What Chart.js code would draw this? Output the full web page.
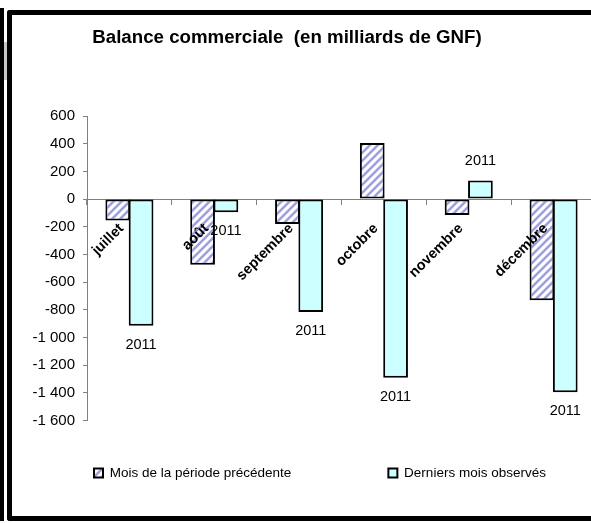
<!DOCTYPE html>
<html><head><meta charset="utf-8">
<script src="https://cdn.jsdelivr.net/npm/chart.js@4/dist/chart.umd.min.js"></script>
<style>
html,body{margin:0;padding:0;background:#fff;width:591px;height:523px;overflow:hidden;}
#strip{position:absolute;left:0;top:8px;width:4px;height:513px;background:#000;}
#grey{position:absolute;left:4px;top:42px;width:3px;height:38px;background:#c8c8c8;}
#frame{position:absolute;left:7px;top:10px;width:700px;height:501px;border:5px solid #000;border-right:none;border-radius:3px 0 0 3px;}
#wrap{position:absolute;left:12px;top:15px;width:600px;height:501px;}
</style></head><body>
<div id="strip"></div><div id="grey"></div><div id="frame"></div>
<div id="wrap"><canvas id="c" width="600" height="501"></canvas></div>
<script>
const titleText = 'Balance commerciale  (en milliards de GNF)';
const categories = ['juillet', 'août', 'septembre', 'octobre', 'novembre', 'décembre'];
const seriesNames = ['Mois de la période précédente', 'Derniers mois observés'];
const prevValues = [-155, -475, -180, 405, -115, -730];
const lastValues = [-915, -95, -815, -1290, 135, -1395];
const yearLabels = ['2011', '2011', '2011', '2011', '2011', '2011'];
const yTicks = [600, 400, 200, 0, -200, -400, -600, -800, -1000, -1200, -1400, -1600];

const FONT = '"Liberation Sans", Arial, sans-serif';

function makeHatch() {
  const c = document.createElement('canvas');
  c.width = 8; c.height = 8;
  const g = c.getContext('2d');
  g.fillStyle = '#ffffff'; g.fillRect(0, 0, 8, 8);
  g.strokeStyle = '#9f9fe6'; g.lineWidth = 2.6; g.lineCap = 'square';
  g.beginPath();
  g.moveTo(-2, 10); g.lineTo(10, -2);
  g.moveTo(-6, 6); g.lineTo(6, -6);
  g.moveTo(2, 14); g.lineTo(14, 2);
  g.stroke();
  return document.getElementById('c').getContext('2d').createPattern(c, 'repeat');
}

function fmt(v) {
  const s = String(Math.abs(v)).replace(/\B(?=(\d{3})+(?!\d))/g, ' ');
  return v < 0 ? '-' + s : s;
}

const barLabels = {
  id: 'barLabels',
  afterDatasetsDraw(chart) {
    const ctx = chart.ctx;
    const meta = chart.getDatasetMeta(1);
    ctx.save();
    ctx.font = '14.5px ' + FONT;
    ctx.fillStyle = '#000';
    ctx.textAlign = 'center';
    ctx.textBaseline = 'middle';
    meta.data.forEach((bar, i) => {
      const v = lastValues[i];
      ctx.fillText(yearLabels[i], bar.x, v < 0 ? bar.y + 19 : bar.y - 19);
    });
    ctx.restore();
  }
};

const place = {
  id: 'place',
  afterLayout(chart) {
    const t = chart.titleBlock;
    if (t) { t.left = 0; t.right = 550; }
    const lg = chart.legend;
    if (lg) {
      const p = lg.options.labels.padding;
      lg.left = 82 - p;
      lg.right = 3000;
      lg.top = 458 - 6.75 - p;
      lg.bottom = 501;
    }
  }
};

new Chart(document.getElementById('c'), {
  type: 'bar',
  data: {
    labels: categories,
    datasets: [
      { label: seriesNames[0], data: prevValues, backgroundColor: makeHatch(), borderColor: '#000', borderWidth: 2, borderSkipped: false },
      { label: seriesNames[1], data: lastValues, backgroundColor: '#ccffff', borderColor: '#000', borderWidth: 2, borderSkipped: false }
    ]
  },
  options: {
    responsive: false,
    animation: false,
    devicePixelRatio: 1,
    categoryPercentage: 0.55,
    barPercentage: 1.06,
    layout: { padding: { top: 0, left: 0, right: 16, bottom: 65.4 } },
    plugins: {
      tooltip: { enabled: false },
      title: {
        display: true, text: titleText, color: '#000',
        font: { family: FONT, size: 18.7, weight: 'bold', lineHeight: 1.2 },
        padding: { top: 11.8, bottom: 66.8 }
      },
      legend: {
        position: 'bottom', align: 'start', maxHeight: 30,
        labels: { boxWidth: 9, boxHeight: 9, padding: 97, color: '#000', font: { family: FONT, size: 13.5 } }
      }
    },
    scales: {
      x: {
        position: { y: 0 },
        offset: true,
        grid: { offset: true, drawOnChartArea: false, drawTicks: true, tickLength: 5, color: '#808080' },
        border: { display: true, color: '#808080', width: 1 },
        ticks: { z: 1, autoSkip: false, minRotation: 45, maxRotation: 45, padding: 16, labelOffset: -8, color: '#000', font: { family: FONT, size: 14.5, weight: 'bold' } }
      },
      y: {
        min: -1600, max: 600,
        afterFit(s) { s.width = 75; },
        afterBuildTicks(s) { s.ticks = yTicks.map(v => ({ value: v })); },
        grid: { drawOnChartArea: false, drawTicks: true, tickLength: 4, color: '#808080' },
        border: { display: true, color: '#808080', width: 1 },
        ticks: { padding: 8, color: '#000', font: { family: FONT, size: 15 }, callback: v => fmt(v) }
      }
    }
  },
  plugins: [barLabels, place]
});
</script>
</body></html>
